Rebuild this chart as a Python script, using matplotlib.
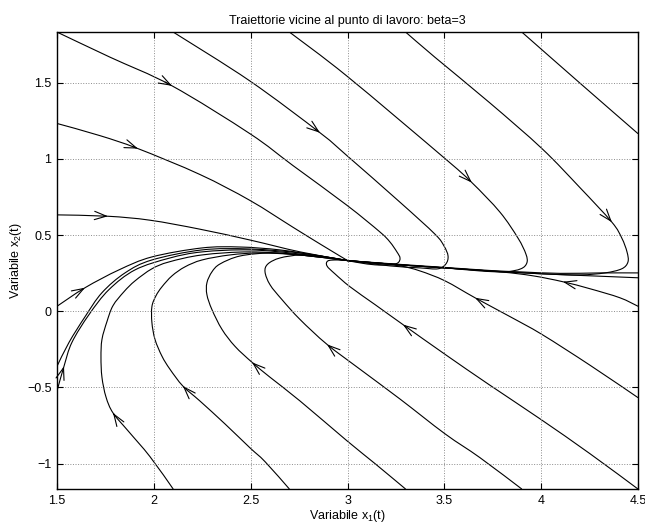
import numpy as np
import matplotlib
matplotlib.use('Agg')
import matplotlib.pyplot as plt
from matplotlib.path import Path
from matplotlib.patches import PathPatch

plt.rcParams['font.family'] = ['Liberation Sans', 'DejaVu Sans']
plt.rcParams['mathtext.default'] = 'regular'

# trajectories (x1, x2), plus index of the arrow tip
t1_x = [1.5, 1.774, 2.094, 2.496, 2.718, 2.997, 3.168, 3.219, 3.255, 3.271, 3.260, 3.219, 3.142, 3.064, 3.0]
t1_y = [1.833, 1.668, 1.480, 1.166, 0.957, 0.696, 0.520, 0.455, 0.390, 0.350, 0.318, 0.305, 0.305, 0.318, 0.333]
t2_x = [2.1, 2.496, 2.858, 2.997, 3.271, 3.451, 3.498, 3.519, 3.508, 3.467, 3.374, 3.219, 3.0]
t2_y = [1.833, 1.512, 1.172, 1.022, 0.716, 0.507, 0.429, 0.363, 0.311, 0.279, 0.285, 0.298, 0.333]
t3_x = [2.7, 2.997, 3.503, 3.642, 3.787, 3.880, 3.921, 3.926, 3.895, 3.813, 3.684, 3.503, 3.271, 3.0]
t3_y = [1.833, 1.544, 1.003, 0.845, 0.651, 0.481, 0.376, 0.318, 0.279, 0.259, 0.265, 0.285, 0.305, 0.333]
t4_x = [3.3, 3.451, 3.735, 4.004, 4.200, 4.365, 4.416, 4.443, 4.448, 4.416, 4.329, 4.200, 4.004, 3.735, 3.503, 3.271, 3.0]
t4_y = [1.833, 1.668, 1.368, 1.068, 0.812, 0.585, 0.481, 0.390, 0.324, 0.279, 0.252, 0.239, 0.246, 0.265, 0.285, 0.305, 0.333]
t5_x = [3.9, 4.2, 4.5]
t5_y = [1.833, 1.498, 1.166]

s1_x = [4.5, 4.252, 4.004, 3.735, 3.503, 3.271, 3.0]
s1_y = [0.220, 0.233, 0.246, 0.265, 0.285, 0.305, 0.333]
s2_x = [4.5, 4.303, 4.097, 3.890, 3.735, 3.503, 3.271, 3.0]
s2_y = [0.252, 0.252, 0.249, 0.259, 0.268, 0.288, 0.308, 0.333]

r3_x = [4.5, 4.406, 4.252, 4.112, 3.957, 3.787, 3.503, 3.271, 3.0]
r3_y = [0.033, 0.089, 0.148, 0.194, 0.233, 0.259, 0.285, 0.305, 0.333]
r4_x = [4.5, 4.252, 4.004, 3.839, 3.658, 3.503, 3.374, 3.271, 3.116, 3.0]
r4_y = [-0.567, -0.354, -0.152, -0.035, 0.089, 0.200, 0.265, 0.298, 0.318, 0.333]

b6_x = [4.5, 4.252, 3.994, 3.735, 3.503, 3.286, 3.142, 3.013, 2.935, 2.894, 2.899, 2.946, 3.0]
b6_y = [-1.167, -0.935, -0.706, -0.485, -0.282, -0.087, 0.044, 0.161, 0.246, 0.298, 0.331, 0.337, 0.333]
b5_x = [3.9, 3.684, 3.503, 3.271, 3.064, 2.894, 2.755, 2.662, 2.600, 2.574, 2.589, 2.651, 2.755, 2.858, 3.0]
b5_y = [-1.167, -0.961, -0.804, -0.576, -0.380, -0.217, -0.054, 0.076, 0.174, 0.259, 0.311, 0.350, 0.370, 0.363, 0.333]
b4_x = [3.3, 3.142, 2.997, 2.755, 2.600, 2.507, 2.419, 2.352, 2.300, 2.274, 2.274, 2.300, 2.342, 2.445, 2.600, 2.755, 3.0]
b4_y = [-1.167, -1.000, -0.850, -0.589, -0.433, -0.335, -0.230, -0.119, 0.011, 0.109, 0.187, 0.259, 0.311, 0.363, 0.383, 0.370, 0.333]
b3_x = [2.7, 2.574, 2.496, 2.367, 2.238, 2.150, 2.083, 2.042, 2.006, 1.990, 1.990, 2.011, 2.042, 2.094, 2.161, 2.249, 2.393, 2.548, 2.755, 3.0]
b3_y = [-1.167, -0.987, -0.896, -0.739, -0.589, -0.491, -0.380, -0.295, -0.185, -0.074, 0.031, 0.102, 0.161, 0.233, 0.292, 0.337, 0.370, 0.383, 0.370, 0.333]
b2_x = [2.1, 1.980, 1.867, 1.789, 1.753, 1.732, 1.727, 1.732, 1.758, 1.789, 1.846, 1.903, 1.990, 2.078, 2.249, 2.496, 2.755, 3.0]
b2_y = [-1.167, -0.954, -0.785, -0.667, -0.563, -0.433, -0.302, -0.185, -0.067, 0.037, 0.129, 0.200, 0.279, 0.324, 0.370, 0.390, 0.370, 0.333]

la_x = [1.5, 1.562, 1.645, 1.732, 1.851, 1.990, 2.249, 2.496, 2.755, 3.0]
la_y = [-0.361, -0.204, -0.035, 0.122, 0.252, 0.337, 0.403, 0.409, 0.383, 0.333]
lb_x = [1.5, 1.536, 1.577, 1.665, 1.768, 1.903, 2.083, 2.249, 2.496, 2.755, 3.0]
lb_y = [-0.523, -0.361, -0.204, -0.022, 0.142, 0.272, 0.350, 0.390, 0.403, 0.376, 0.333]
l3_x = [1.5, 1.645, 1.820, 1.990, 2.249, 2.445, 2.651, 2.858, 3.0]
l3_y = [0.033, 0.155, 0.272, 0.357, 0.416, 0.422, 0.403, 0.363, 0.333]
l2_x = [1.5, 1.763, 1.980, 2.238, 2.496, 2.755, 3.0]
l2_y = [0.633, 0.624, 0.598, 0.539, 0.468, 0.390, 0.333]
l1_x = [1.5, 1.722, 1.918, 2.238, 2.496, 2.718, 2.858, 3.0]
l1_y = [1.233, 1.153, 1.068, 0.898, 0.728, 0.552, 0.442, 0.333]

trajectories = [
    (t1_x, t1_y, 2), (t2_x, t2_y, 2), (t3_x, t3_y, 3), (t4_x, t4_y, 5), (t5_x, t5_y, None),
    (s1_x, s1_y, None), (s2_x, s2_y, None), (r3_x, r3_y, 3), (r4_x, r4_y, 4),
    (b6_x, b6_y, 5), (b5_x, b5_y, 5), (b4_x, b4_y, 5), (b3_x, b3_y, 5), (b2_x, b2_y, 3),
    (la_x, la_y, None), (lb_x, lb_y, 1), (l3_x, l3_y, 1), (l2_x, l2_y, 1), (l1_x, l1_y, 2),
]


def smooth_path(xs, ys):
    # draw a smooth (Catmull-Rom style) bezier through the read points
    p = np.column_stack([xs, ys])
    n = len(p)
    verts = [p[0]]
    codes = [Path.MOVETO]
    for i in range(n - 1):
        p0 = p[max(i - 1, 0)]
        p3 = p[min(i + 2, n - 1)]
        c1 = p[i] + (p[i + 1] - p0) / 6.0
        c2 = p[i + 1] - (p3 - p[i]) / 6.0
        verts += [c1, c2, p[i + 1]]
        codes += [Path.CURVE4] * 3
    return Path(verts, codes)


fig = plt.figure(figsize=(6.45, 5.26), dpi=100)
ax = fig.add_axes([0.0884, 0.0703, 0.9008, 0.8688])

for xs, ys, k in trajectories:
    ax.add_patch(PathPatch(smooth_path(xs, ys), fill=False, edgecolor='k', lw=0.8))
    if k is not None:
        nxt = min(k + 1, len(xs) - 1)
        dx = xs[nxt] - xs[k - 1]
        dy = ys[nxt] - ys[k - 1]
        ax.annotate('', xy=(xs[k], ys[k]), xytext=(xs[k] - 0.05 * dx, ys[k] - 0.05 * dy),
                    arrowprops=dict(arrowstyle='->,head_length=0.85,head_width=0.3',
                                    lw=0.8, color='k', shrinkA=0, shrinkB=0))

ax.set_xlim(1.5, 4.5)
ax.set_ylim(-1.1667, 1.8333)
ax.set_xticks([1.5, 2, 2.5, 3, 3.5, 4, 4.5])
ax.set_xticklabels(['1.5', '2', '2.5', '3', '3.5', '4', '4.5'])
ax.set_yticks([-1, -0.5, 0, 0.5, 1, 1.5])
ax.set_yticklabels(['\u22121', '\u22120.5', '0', '0.5', '1', '1.5'])
ax.grid(True, linestyle=':', color='0.55', lw=0.7)
ax.tick_params(direction='in', top=True, right=True, length=4, labelsize=9, pad=4)
for sp in ax.spines.values():
    sp.set_linewidth(1.0)

ax.set_title('Traiettorie vicine al punto di lavoro: beta=3', fontsize=9, pad=6)
ax.set_xlabel('Variabile x$_1$(t)', fontsize=9, labelpad=1)
ax.set_ylabel('Variabile x$_2$(t)', fontsize=9, labelpad=2)

plt.savefig('out.png', dpi=100)
